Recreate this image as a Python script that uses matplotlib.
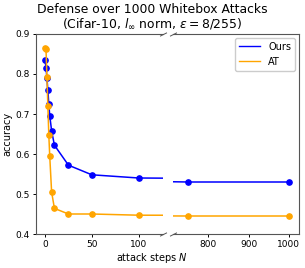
import matplotlib
matplotlib.use("Agg")
import matplotlib.pyplot as plt

steps = [0, 1, 2, 3, 4, 5, 7, 10, 25, 50, 100, 750, 1000]
ours = [0.835, 0.816, 0.790, 0.759, 0.725, 0.696, 0.658, 0.622, 0.572, 0.548, 0.540, 0.530, 0.530]
at = [0.865, 0.862, 0.792, 0.719, 0.648, 0.595, 0.505, 0.464, 0.450, 0.450, 0.447, 0.445, 0.445]
series_names = ["Ours", "AT"]
series_colors = ["blue", "orange"]
left_ticks = [0, 50, 100]
right_ticks = [800, 900, 1000]
y_ticks = [0.4, 0.5, 0.6, 0.7, 0.8, 0.9]

fig = plt.figure(figsize=(3.05, 2.68), dpi=100)
ax1 = fig.add_axes([35.7/305, 1-234/268, (163-35.7)/305, 200/268])
ax2 = fig.add_axes([172.7/305, 1-234/268, (299-172.7)/305, 200/268])

for ax in (ax1, ax2):
    for vals, name, col in zip([ours, at], series_names, series_colors):
        ax.plot(steps, vals, color=col, lw=1.1, marker='o', markersize=3.8, label=name)
    ax.set_ylim(0.4, 0.9)
    ax.tick_params(labelsize=6.5, length=2.5, width=0.7, pad=2)

ax1.set_xlim(-10, 126)
ax2.set_xlim(711, 1025)
ax1.set_xticks(left_ticks)
ax2.set_xticks(right_ticks)
ax1.set_yticks(y_ticks)
ax1.set_yticklabels([f"{v:.1f}" for v in y_ticks])
ax2.set_yticks([])
ax1.spines['right'].set_visible(False)
ax2.spines['left'].set_visible(False)
for ax in (ax1, ax2):
    for s in ax.spines.values():
        s.set_linewidth(0.8)
        s.set_color('#555555')

d = 0.5
kw = dict(marker=[(-1, -d), (1, d)], markersize=5, linestyle="none", color='k', mec='#555555', mew=0.7, clip_on=False)
ax1.plot([1, 1], [0, 1], transform=ax1.transAxes, **kw)
ax2.plot([0, 0], [0, 1], transform=ax2.transAxes, **kw)

ax1.set_ylabel("accuracy", fontsize=7, labelpad=2)
handles = [plt.Line2D([], [], color=c, lw=1.0) for c in series_colors]
ax2.legend(handles, series_names, loc='upper right', fontsize=7, handlelength=2.2, framealpha=1,
           borderaxespad=0.4)

fig.text(0.5, 1-3/268, "Defense over 1000 Whitebox Attacks\n(Cifar-10, $l_\\infty$ norm, $\\epsilon = 8/255$)",
         ha='center', va='top', fontsize=8.9, linespacing=1.0)
fig.text(0.5, 1-251/268, "attack steps $N$", ha='center', va='top', fontsize=7)

fig.savefig("out.png", dpi=100)
